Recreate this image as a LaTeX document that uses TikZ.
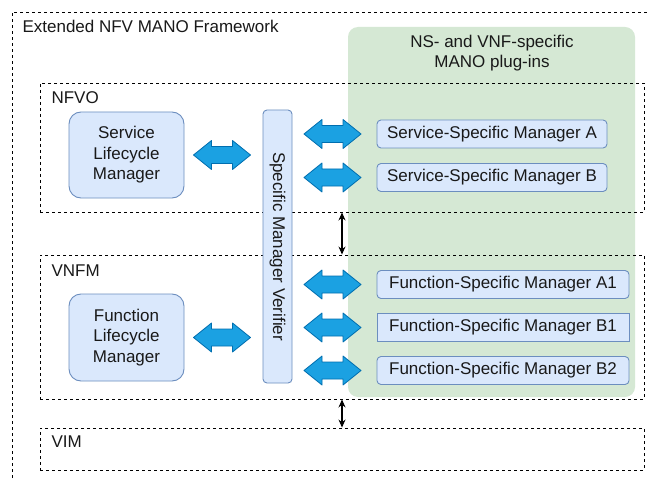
\documentclass[tikz,border=0pt]{standalone}
\usepackage{fontspec}
\setmainfont{Liberation Sans}
\usetikzlibrary{arrows.meta,calc}
\definecolor{boxfill}{HTML}{DAE8FC}
\definecolor{boxedge}{HTML}{6C8EBF}
\definecolor{plugfill}{HTML}{D5E8D4}
\definecolor{arrfill}{HTML}{1BA1E2}
\definecolor{arredge}{HTML}{006EAF}
\tikzset{
  txt/.style={font=\fontsize{17}{20.5}\selectfont, text=black!90},
  dashbox/.style={draw, dash pattern=on 3pt off 3pt, line width=0.9pt, inner sep=0pt},
  lcm/.style={txt, draw=boxedge, fill=boxfill, rounded corners=12pt, line width=0.9pt, align=center, minimum width=115pt, minimum height=86pt, inner sep=0pt},
  mgr/.style={txt, draw=boxedge, fill=boxfill, rounded corners=4pt, line width=0.9pt, minimum height=28pt, inner sep=0pt},
  blkarrow/.pic={
    \draw [draw=arredge, fill=arrfill, line width=0.8pt, line join=round]
      (-28.5,0) -- (-10.5,-14.5) -- (-10.5,-8.5) -- (10.5,-8.5) -- (10.5,-14.5) -- (28.5,0)
      -- (10.5,14.5) -- (10.5,8.5) -- (-10.5,8.5) -- (-10.5,14.5) -- cycle;
  },
  linkarr/.style={{Stealth[length=8pt,width=7pt]}-{Stealth[length=8pt,width=7pt]}, line width=1.2pt}
}
\begin{document}
\begin{tikzpicture}[x=1pt,y=-1pt]
\useasboundingbox (0,0) rectangle (647,481);
\clip (0,0) rectangle (647,481);
\fill[white] (0,0) rectangle (647,481);
% plug-in area
\node (plugins) [fill=plugfill, rounded corners=10pt, minimum width=287pt, minimum height=370pt] at (491.5,212) {};
\node (pluglbl) [txt, align=center] at (492,53) {NS- and VNF-specific\\MANO plug-ins};
% framework and its blocks
\draw [dash pattern=on 3pt off 3pt, line width=0.9pt] (12,490) -- (12,12) -- (660,12);
\node (title) [txt, anchor=west] at (19,26) {Extended NFV MANO Framework};
\node (nfvo) [dashbox, minimum width=604pt, minimum height=129pt] at (342,147.5) {};
\node (vnfm) [dashbox, minimum width=604pt, minimum height=144pt] at (342,327) {};
\node (vim)  [dashbox, minimum width=604pt, minimum height=42pt] at (342,449) {};
\node (nfvolbl) [txt, anchor=west] at (48,98) {NFVO};
\node (vnfmlbl) [txt, anchor=west] at (48,271) {VNFM};
\node (vimlbl) [txt, anchor=west] at (48,442) {VIM};
% lifecycle managers
\node (slm) [lcm] at (126.5,155) {Service\\Lifecycle\\Manager};
\node (flm) [lcm, minimum height=87pt] at (126.5,337.5) {Function\\Lifecycle\\Manager};
\node (verif) [txt, draw=boxedge, fill=boxfill, rounded corners=4pt, line width=0.9pt, rotate=-90, minimum width=273pt, minimum height=29pt, inner sep=0pt] at (277.5,246.5) {Specific Manager Verifier};
% specific managers
\node (ssma) [mgr, minimum width=230pt] at (492,134) {Service-Specific Manager A};
\node (ssmb) [mgr, minimum width=230pt] at (492,177.5) {Service-Specific Manager B};
\node (fsma1) [mgr, minimum width=252pt] at (503,284.5) {Function-Specific Manager A1};
\node (fsmb1) [mgr, minimum width=252pt, rounded corners=0pt] at (503,327.5) {Function-Specific Manager B1};
\node (fsmb2) [mgr, minimum width=252pt] at (503,370.5) {Function-Specific Manager B2};
% block arrows
\coordinate (larr) at (222,0);
\coordinate (rarr) at (332.5,0);
\pic at (larr |- slm) {blkarrow};
\pic at (larr |- flm) {blkarrow};
\foreach \m in {ssma,ssmb,fsma1,fsmb1,fsmb2}
  \pic at (rarr |- \m) {blkarrow};
% links between layers
\coordinate (lnk) at (342,0);
\draw [linkarr] (nfvo.south -| lnk) -- (vnfm.north -| lnk);
\draw [linkarr] (vnfm.south -| lnk) -- (vim.north -| lnk);
\end{tikzpicture}
\end{document}
